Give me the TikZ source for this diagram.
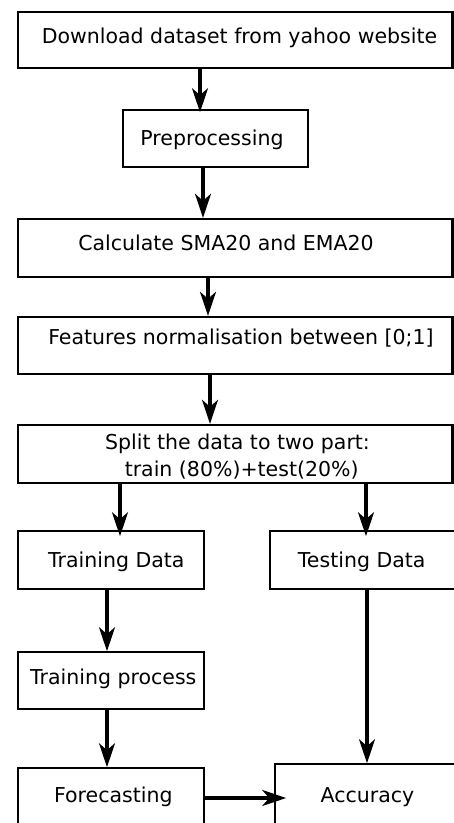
\documentclass[tikz,border=0pt]{standalone}
\usepackage{fontspec}
\setmainfont{DejaVu Sans}
\usetikzlibrary{arrows.meta}
\begin{document}
\begin{tikzpicture}[x=1pt,y=-1pt,
  boxthin/.style={draw, line width=1.6pt, rectangle, inner sep=0pt},
  boxthick/.style={draw, line width=2.4pt, rectangle, inner sep=0pt},
  txt/.style={anchor=base, inner sep=0pt, font=\fontsize{20.5}{27}\selectfont},
  arr/.style={line width=3.2pt, -{Stealth[length=24pt,width=16pt,inset=7pt]}}]
\useasboundingbox (0,0) rectangle (454,823);
\clip (0,0) rectangle (454,823);
% boxes
\node[boxthick, minimum width=434.5pt, minimum height=56pt] (b1) at (235.25,40) {};
\node[boxthin, minimum width=185pt, minimum height=57pt] (b2) at (215.5,138.5) {};
\node[boxthick, minimum width=434.5pt, minimum height=58pt] (b3) at (235.25,248) {};
\node[boxthick, minimum width=434.5pt, minimum height=57pt] (b4) at (235.25,345.5) {};
\node[boxthick, minimum width=434.5pt, minimum height=58pt] (b5) at (235.25,454) {};
\node[boxthin, minimum width=186pt, minimum height=58pt] (b6) at (111,560) {};
\node[boxthin, minimum width=200pt, minimum height=58pt] (b7) at (370,560) {};
\node[boxthin, minimum width=186pt, minimum height=57pt] (b8) at (111,680.5) {};
\node[boxthin, minimum width=186pt, minimum height=62pt] (b9) at (111,799) {};
\node[boxthin, minimum width=195pt, minimum height=66pt] (b10) at (372.5,797) {};
% texts
\node[txt] (t1) at (239.5,43) {Download dataset from yahoo website};
\node[txt] (t2) at (212,145) {Preprocessing};
\node[txt] (t3) at (226,250) {Calculate SMA20 and EMA20};
\node[txt] (t4) at (241,344) {Features normalisation between [0;1]};
\node[txt] (t5a) at (237.5,449) {Split the data to two part:};
\node[txt] (t5b) at (241.7,476) {train (80\%)+test(20\%)};
\node[txt] (t6) at (116.3,567) {Training Data};
\node[txt] (t7) at (361.7,567) {Testing Data};
\node[txt] (t8) at (113.3,684) {Training process};
\node[txt] (t9) at (113.3,802) {Forecasting};
\node[txt] (t10) at (367.5,802) {Accuracy};
% connector x positions
\coordinate (x1) at (200,0);
\coordinate (x2) at (203,0);
\coordinate (x3) at (208,0);
\coordinate (x4) at (210,0);
\coordinate (x5) at (120,0);
\coordinate (x6) at (366,0);
\coordinate (x7) at (107,0);
\coordinate (x8) at (367,0);
\coordinate (y9) at (0,798);
% connectors
\draw[arr] (b1.south -| x1) -- ([yshift=-3pt]b2.north -| x1);
\draw[arr] (b2.south -| x2) -- (b3.north -| x2);
\draw[arr] (b3.south -| x3) -- (b4.north -| x3);
\draw[arr] (b4.south -| x4) -- (b5.north -| x4);
\draw[arr] (b5.south -| x5) -- ([yshift=-6pt]b6.north -| x5);
\draw[arr] (b5.south -| x6) -- ([yshift=-6pt]b7.north -| x6);
\draw[arr] (b6.south -| x7) -- (b8.north -| x7);
\draw[arr] (b8.south -| x7) -- (b9.north -| x7);
\draw[arr] (b7.south -| x8) -- (b10.north -| x8);
\draw[arr] (b9.east |- y9) -- ([xshift=12pt]b10.west |- y9);
\end{tikzpicture}
\end{document}
